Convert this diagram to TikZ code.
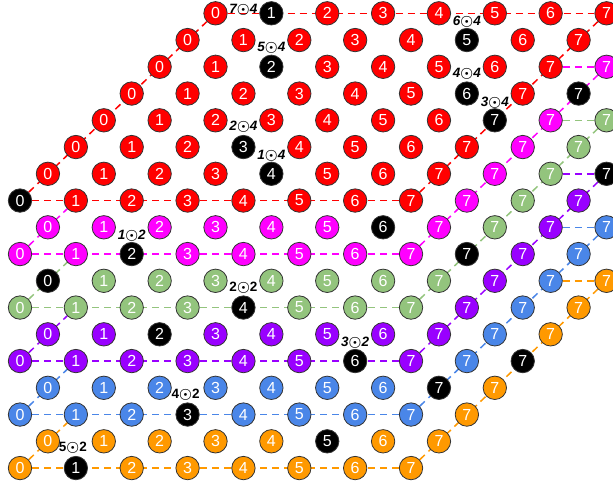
\documentclass[tikz,border=0pt]{standalone}
\usepackage{fontspec}
\setmainfont{Liberation Sans}
\usetikzlibrary{backgrounds}
\definecolor{cr}{HTML}{FF0000}
\definecolor{cm}{HTML}{FF00FF}
\definecolor{cg}{HTML}{93C47D}
\definecolor{cp}{HTML}{9900FF}
\definecolor{cb}{HTML}{4A86E8}
\definecolor{co}{HTML}{FF9900}
\definecolor{edge}{HTML}{333333}
\newcommand\layercol[1]{\ifcase#1 cr\or cm\or cg\or cp\or cb\or co\fi}
\newcommand\mkblk[1]{\expandafter\gdef\csname blk#1\endcsname{}}
\newcommand\ballnode[3]{%
  \ifcsname blk#1-#2-#3\endcsname\def\ballfc{black}\else\edef\ballfc{\layercol{#1}}\fi
  \node[ball,fill=\ballfc] (n#1-#2-#3) at ({20+27.93*(2*#2+#3)},{13.3+26.75*(2*#1+7-#3)}) {#2};}
\foreach \b in {0-0-0,0-4-1,0-3-2,0-7-3,0-6-4,0-2-5,0-5-6,0-1-7,
  1-2-0,1-6-1,1-7-6, 2-4-0,2-0-1,2-7-2, 3-6-0,3-2-1,3-7-7, 4-3-0,4-7-1, 5-1-0,5-5-1,5-7-4}{\mkblk{\b}}
\tikzset{
  ball/.style={circle,draw=edge,line width=0.8pt,minimum size=23.4pt,inner sep=0pt,
    text=white,font=\fontsize{16}{16}\selectfont},
  lab/.style={inner sep=0pt,font=\fontsize{13.5}{13.5}\selectfont\bfseries\itshape\boldmath},
  labu/.style={inner sep=0pt,font=\fontsize{13.5}{13.5}\selectfont\bfseries\boldmath},
  dl/.style={draw=#1,line width=1.5pt,dash pattern=on 7pt off 5pt}
}
\begin{document}
\begin{tikzpicture}[x=1pt,y=-1pt]
\useasboundingbox (0,0) rectangle (613,485);
% lower layers: visible balls
\foreach \k in {1,...,5}{
  \foreach \v in {0,...,6}{\foreach \d in {0,1}{\ballnode{\k}{\v}{\d}}}
  \foreach \d in {0,...,7}{\ballnode{\k}{7}{\d}}
}
% top layer
\foreach \v in {0,...,7}{\foreach \d in {0,...,7}{\ballnode{0}{\v}{\d}}}
% labels
\node[lab] (t74) at ([xshift=-28pt,yshift=3pt]n0-1-7.center) {7$\odot$4};
\node[lab] (t64) at ([yshift=18pt]n0-5-6.center) {6$\odot$4};
\node[lab] (t54) at ([yshift=19pt]n0-2-5.center) {5$\odot$4};
\node[lab] (t44) at ([yshift=20pt]n0-6-4.center) {4$\odot$4};
\node[lab] (t34) at ([yshift=18pt]n0-7-3.center) {3$\odot$4};
\node[lab] (t24) at ([yshift=20pt]n0-3-2.center) {2$\odot$4};
\node[lab] (t14) at ([yshift=18pt]n0-4-1.center) {1$\odot$4};
\node[lab] (t12) at ([yshift=18pt]n1-2-0.center) {1$\odot$2};
\node[labu] (t22) at ([yshift=20pt]n2-4-0.center) {2$\odot$2};
\node[lab] (t32) at ([yshift=18pt]n3-6-0.center) {3$\odot$2};
\node[labu] (t42) at ([xshift=-2pt,yshift=20pt]n4-3-0.center) {4$\odot$2};
\node[labu] (t52) at ([xshift=-3pt,yshift=20pt]n5-1-0.center) {5$\odot$2};
% dashed edges
\begin{pgfonlayer}{background}
\draw[dl=cr] (n0-0-0) -- (n0-7-0);
\draw[dl=cr] (n0-7-0) -- (n0-7-7);
\draw[dl=cr] (n0-0-0) -- (n0-0-7);
\draw[dl=cr] (n0-0-7) -- (n0-7-7);
\foreach \k/\pk/\c in {1/0/cm,2/1/cg,3/2/cp,4/3/cb,5/4/co}{
  \draw[dl=\c] (n\k-0-0) -- (n\k-7-0);
  \draw[dl=\c] (n\k-7-0) -- (n\k-7-7);
  \draw[dl=\c] (n\k-0-0) -- (n\pk-1-0);
  \draw[dl=\c] (n\pk-7-5) -- (n\k-7-7);
}
\end{pgfonlayer}
\end{tikzpicture}
\end{document}
